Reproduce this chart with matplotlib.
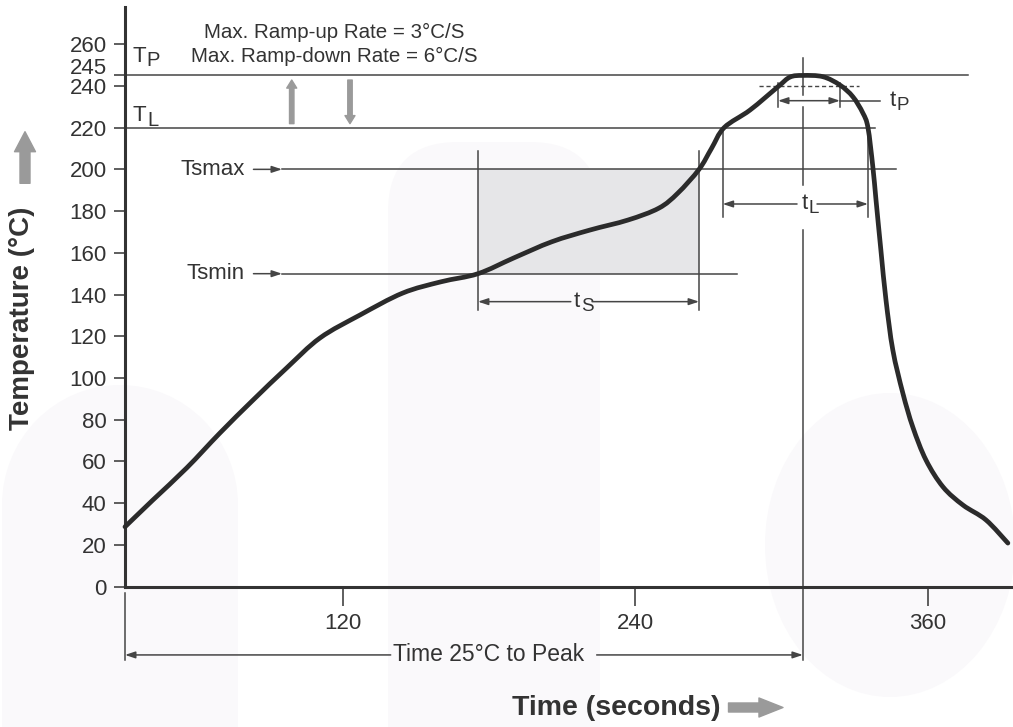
import matplotlib
matplotlib.use('Agg')
import matplotlib.pyplot as plt
from matplotlib.patches import Ellipse, FancyBboxPatch, FancyArrowPatch, Rectangle, PathPatch
from matplotlib.path import Path
from matplotlib.transforms import IdentityTransform

plt.rcParams['font.family'] = ['Liberation Sans', 'DejaVu Sans']

# ---- values (time in s, temperature in deg C) ----
time_s = [30.6, 42.0, 55.9, 69.5, 83.1, 96.9, 110.6, 127.0, 144.5, 160.2,
          175.4, 190.0, 205.7, 221.3, 236.9, 249.6, 257.4, 266.1, 271.2, 276.4,
          287.0, 298.5, 303.4, 308.7, 316.9, 323.9, 329.2, 333.3, 335.4, 337.4,
          338.7, 340.7, 342.8, 345.6, 349.7, 353.8, 359.2, 366.2, 374.4, 383.8,
          392.8]
temp_c = [28.7, 41.5, 56.9, 73.6, 89.4, 104.8, 119.2, 130.2, 140.7, 146.1,
          150.0, 157.5, 165.3, 170.9, 175.7, 181.4, 188.6, 200.0, 210.0, 220.0,
          228.4, 239.6, 244.2, 245.0, 244.4, 240.4, 234.8, 227.0, 220.0, 201.2,
          185.3, 161.3, 137.3, 113.4, 92.8, 76.5, 60.7, 47.8, 39.1, 32.0,
          20.9]

y_ticks = [0, 20, 40, 60, 80, 100, 120, 140, 160, 180, 200, 220, 240, 245, 260]
y_labels = [str(v) if v != 245 else '' for v in y_ticks]
x_ticks = [120, 240, 360]
x_labels = ['120', '240', '360']

T_PEAK = 245      # Tp
T_LIQ = 220       # TL
TS_MAX = 200
TS_MIN = 150
T_P_BAND = 240    # dashed line under the peak

t_axis0 = 30.6            # time where the x axis starts (25 deg C)
t_soak = (175.4, 266.1)   # ts
t_liq = (275.8, 335.4)    # tL
t_peak = 308.7
t_tp = (298.5, 323.9)     # tP

ramp_text = ['Max. Ramp-up Rate = 3\u00b0C/S', 'Max. Ramp-down Rate = 6\u00b0C/S']

INK = '#333333'
LINE = '#454545'
LW = 1.1
SHADE = '#faf9fb'
HEAD = '-|>,head_length=0.6,head_width=0.2'
HEAD2 = '<|-|>,head_length=0.6,head_width=0.2'

fig = plt.figure(figsize=(10.13, 7.27), dpi=100)
fig.patch.set_facecolor('white')

# faint watermark shapes in the background (figure pixels)
wm = [
    FancyBboxPatch((388, -100), 212, 685, boxstyle='round,pad=0,rounding_size=70'),
    Ellipse((120, 222), 236, 240),
    Rectangle((2, -10), 236, 232),
    Ellipse((890, 182), 250, 304),
]
for p in wm:
    p.set_facecolor(SHADE)
    p.set_edgecolor('none')
    p.set_transform(IdentityTransform())
    p.set_zorder(-5)
    fig.add_artist(p)

ax = fig.add_axes([125 / 1013, 1 - 586.7 / 727, 888 / 1013, 579.7 / 727])
ax.set_facecolor('none')
ax.set_xlim(t_axis0, 394.9)
ax.set_ylim(0, 277.8)

ax.spines[['top', 'right']].set_visible(False)
for s in ['left', 'bottom']:
    ax.spines[s].set_linewidth(2.2)
    ax.spines[s].set_color(INK)

ax.set_xticks(x_ticks, x_labels)
ax.set_yticks(y_ticks, y_labels)
ax.tick_params(axis='x', length=13.7, width=1.1, pad=5, labelsize=16, colors=INK)
ax.tick_params(axis='y', length=7.7, width=1.1, pad=5.5, labelsize=16, colors=INK)
ax.annotate('245', xy=(0, T_PEAK), xycoords=('axes fraction', 'data'),
            xytext=(-13.2, 5.2), textcoords='offset points', ha='right', va='center',
            fontsize=16, color=INK)


def hline(y, x0, x1, **kw):
    ax.plot([x0, x1], [y, y], color=LINE, lw=LW, clip_on=False, **kw)


def vline(x, y0, y1, **kw):
    ax.plot([x, x], [y0, y1], color=LINE, lw=LW, clip_on=False, **kw)


def arrow(x_tip, x_tail, y, style=HEAD):
    ax.annotate('', xy=(x_tip, y), xytext=(x_tail, y), annotation_clip=False,
                arrowprops=dict(arrowstyle=style, color=LINE, lw=LW,
                                shrinkA=0, shrinkB=0, mutation_scale=10))


def sub_label(x, y, main, sub, size=16, subsize=13.5, ha='left'):
    t = ax.text(x, y, main, fontsize=size, color=INK, ha=ha, va='center')
    ax.annotate(sub, xy=(1, 0), xycoords=t, xytext=(0.3, -1.8),
                textcoords='offset points', ha='left', va='bottom',
                fontsize=subsize, color=INK)


# smooth curve through the read points (Catmull-Rom as cubic Bezier)
def smooth_path(xs, ys):
    pts = list(zip(xs, ys))
    n = len(pts)
    verts = [pts[0]]
    codes = [Path.MOVETO]
    for i in range(n - 1):
        p0 = pts[i - 1] if i > 0 else pts[i]
        p1 = pts[i]
        p2 = pts[i + 1]
        p3 = pts[i + 2] if i + 2 < n else pts[i + 1]
        c1 = (p1[0] + (p2[0] - p0[0]) / 6, p1[1] + (p2[1] - p0[1]) / 6)
        c2 = (p2[0] - (p3[0] - p1[0]) / 6, p2[1] - (p3[1] - p1[1]) / 6)
        verts += [c1, c2, p2]
        codes += [Path.CURVE4] * 3
    return Path(verts, codes)


# soak box
ax.add_patch(Rectangle((t_soak[0], TS_MIN), t_soak[1] - t_soak[0], TS_MAX - TS_MIN,
                       facecolor='#e6e6e8', edgecolor='none', zorder=1))

# level lines
hline(T_PEAK, t_axis0, 376.4)
hline(T_LIQ, t_axis0, 338.3)
hline(TS_MAX, 95.0, 346.7)
hline(TS_MIN, 95.0, 281.6)
ax.plot([290.7, 331.7], [T_P_BAND] * 2, color=LINE, lw=1.0, ls=(0, (3, 2)))

# level labels
sub_label(33.8, 253.9, 'T', 'P', size=16, subsize=14.5)
ax.text(33.8, T_LIQ + 0.6, 'T', fontsize=16, color=INK, ha='left', va='bottom')
ax.annotate('L', xy=(39.6, T_LIQ + 0.6), xytext=(0, -2.5), textcoords='offset points',
            ha='left', va='bottom', fontsize=14.5, color=INK)
for name, level in [('Tsmax', TS_MAX), ('Tsmin', TS_MIN)]:
    ax.annotate(name, xy=(95.0, level), xytext=(79.6, level), ha='right', va='center',
                fontsize=16, color=INK,
                arrowprops=dict(arrowstyle=HEAD, color=LINE, lw=LW, shrinkA=4.5,
                                shrinkB=0, mutation_scale=10))

# ramp rate text and arrows
ax.text(116.3, 265.8, ramp_text[0], fontsize=14.8, color=INK, ha='center', va='center')
ax.text(116.3, 254.3, ramp_text[1], fontsize=14.8, color=INK, ha='center', va='center')
ramp = dict(arrowstyle='simple,head_length=0.58,head_width=0.72,tail_width=0.32',
            color='#9a9a9a', shrinkA=0, shrinkB=0, mutation_scale=10)
ax.annotate('', xy=(99.0, 242.8), xytext=(99.0, 221.9), arrowprops=ramp)
ax.annotate('', xy=(122.9, 221.9), xytext=(122.9, 242.8), arrowprops=ramp)

# ts dimension
vline(t_soak[0], 132.6, 208.9)
vline(t_soak[1], 132.6, 208.9)
arrow(t_soak[0], 213.5, 136.6)
arrow(t_soak[1], 222.2, 136.6)
sub_label(214.8, 136.6, 't', 'S')

# tL dimension
vline(t_liq[0], 177.1, T_LIQ)
vline(t_liq[1], 177.1, T_LIQ)
arrow(t_liq[0], 306.3, 183.4)
arrow(t_liq[1], 314.5, 183.4)
sub_label(308.3, 183.4, 't', 'L')

# tP dimension
vline(t_tp[0], 229.7, 241.3)
vline(t_tp[1], 229.7, 241.3)
arrow(t_tp[0], t_tp[1], 232.9, style=HEAD2)
hline(232.9, t_tp[1], 340.3)
sub_label(344.4, 232.9, 't', 'P')

# peak time line (broken around the tP and tL marks)
vline(t_peak, 235.6, 253.3)
vline(t_peak, 192.4, 229.9)
vline(t_peak, -35.1, 170.8)

# time 25 C to peak
vline(t_axis0, -35.1, -3.2)
arrow(t_axis0, 139.6, -32.7)
arrow(t_peak, 224.1, -32.7)
ax.text(179.9, -32.7, 'Time 25\u00b0C to Peak', fontsize=16.5, color=INK,
        ha='center', va='center')

# profile curve
ax.add_patch(PathPatch(smooth_path(time_s, temp_c), fill=False, edgecolor='#2b2b2b',
                       lw=3.4, joinstyle='round', capstyle='round', zorder=5,
                       clip_on=False))

# axis titles with their grey arrows
fig.text(22 / 1013, 1 - 318 / 727, 'Temperature (\u00b0C)', rotation=90, fontsize=20,
         weight='bold', color=INK, ha='center', va='center')
fig.text(616.7 / 1013, 1 - 708 / 727, 'Time (seconds)', fontsize=20.5,
         weight='bold', color=INK, ha='center', va='center')
fig.add_artist(FancyArrowPatch((25, 727 - 183.3), (25, 727 - 131.7),
                               transform=IdentityTransform(), color='#9a9a9a',
                               arrowstyle='simple,head_length=1.44,head_width=1.51,tail_width=0.72',
                               mutation_scale=10, shrinkA=0, shrinkB=0))
fig.add_artist(FancyArrowPatch((728.5, 19.5), (783.0, 19.5),
                               transform=IdentityTransform(), color='#9a9a9a',
                               arrowstyle='simple,head_length=1.73,head_width=1.37,tail_width=0.65',
                               mutation_scale=10, shrinkA=0, shrinkB=0))

fig.savefig('out.png', dpi=100)
